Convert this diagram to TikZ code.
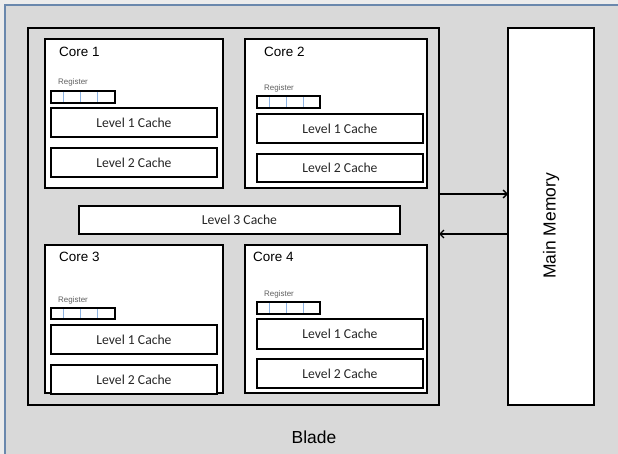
\documentclass[tikz,border=0pt]{standalone}
\usepackage{fontspec}
\setmainfont{Liberation Sans}
\newfontfamily\calfont{Carlito}
\usetikzlibrary{arrows.meta}
\definecolor{bgfill}{HTML}{D9D9D9}
\definecolor{outerfill}{HTML}{ECECEC}
\definecolor{framecol}{HTML}{6A88AD}
\definecolor{divcol}{HTML}{8DB3E2}
\definecolor{reggrey}{HTML}{606060}
\definecolor{cachetext}{HTML}{262626}
\tikzset{
  box/.style={draw=black, anchor=north west, inner sep=0pt, outer sep=0pt},
  bladebox/.style={box, line width=1.3bp},
  corebox/.style={box, fill=white, line width=1.4bp},
  cachebox/.style={box, fill=white, line width=1.8bp, text=cachetext, font=\calfont\fontsize{13.7}{15}\selectfont},
  regbox/.style={box, fill=white, line width=1.4bp},
  regdiv/.style={draw=divcol, line width=0.8bp},
  corelbl/.style={anchor=west, inner sep=0pt, font=\fontsize{13.5}{15}\selectfont},
  reglbl/.style={anchor=west, inner sep=0pt, text=reggrey, font=\fontsize{8}{9}\selectfont},
  biglbl/.style={inner sep=0pt, font=\fontsize{17.5}{19}\selectfont},
  conn/.style={line width=1.3bp, -{Straight Barb[length=4bp,width=8bp]}}
}
\begin{document}
\begin{tikzpicture}[x=1bp,y=-1bp]
\useasboundingbox (0,0) rectangle (618,454);
\clip (0,0) rectangle (618,454);
\fill[outerfill] (0,0) rectangle (618,454);
\fill[bgfill] (5,5) rectangle (620,456);
\draw[framecol, line width=1.2bp] (5,460) -- (5,5) -- (624,5);

% Blade
\node[bladebox, minimum width=411bp, minimum height=377bp] (blade) at (28,28) {};
\node[biglbl] (bladelbl) at (314,437) {Blade};

% Main memory
\node[corebox, line width=1.6bp, minimum width=86bp, minimum height=377bp] (mm) at (508,28) {};
\node[biglbl, rotate=90] (mmlbl) at (551,226) {Main Memory};

% Cores
\node[corebox, minimum width=178bp, minimum height=149bp] (c1) at (45,39) {};
\node[corebox, minimum width=182bp, minimum height=149bp] (c2) at (245,39) {};
\node[corebox, minimum width=178bp, minimum height=148bp] (c3) at (45,245) {};
\node[corebox, minimum width=182bp, minimum height=148bp] (c4) at (245,245) {};

\node[corelbl] (c1l) at (59,52) {Core 1};
\node[corelbl] (c2l) at (264,52) {Core 2};
\node[corelbl] (c3l) at (59,257) {Core 3};
\node[corelbl] (c4l) at (253,257) {Core 4};

% Registers
\node[reglbl] (r1l) at (58,82) {Register};
\node[reglbl] (r2l) at (264,88) {Register};
\node[reglbl] (r3l) at (58,300) {Register};
\node[reglbl] (r4l) at (264,294) {Register};

\node[regbox, minimum width=64bp, minimum height=12bp] (r1) at (51,91) {};
\node[regbox, minimum width=63bp, minimum height=12bp] (r2) at (257,96) {};
\node[regbox, minimum width=64bp, minimum height=11bp] (r3) at (51,308) {};
\node[regbox, minimum width=63bp, minimum height=12bp] (r4) at (257,302) {};

\foreach \r in {r1,r2,r3,r4}{
  \foreach \dx in {12,29,46}{
    \draw[regdiv] ([xshift=\dx bp, yshift=-0.8bp]\r.north west) -- ([xshift=\dx bp, yshift=0.8bp]\r.south west);
  }
}

% Caches
\node[cachebox, minimum width=166bp, minimum height=29bp] (l1a) at (51,108) {Level 1 Cache};
\node[cachebox, minimum width=166bp, minimum height=29bp] (l2a) at (51,148) {Level 2 Cache};
\node[cachebox, minimum width=166bp, minimum height=29bp] (l1b) at (257,114) {Level 1 Cache};
\node[cachebox, minimum width=166bp, minimum height=28bp] (l2b) at (257,154) {Level 2 Cache};
\node[cachebox, minimum width=166bp, minimum height=29bp] (l1c) at (51,325) {Level 1 Cache};
\node[cachebox, minimum width=166bp, minimum height=29bp] (l2c) at (51,365) {Level 2 Cache};
\node[cachebox, minimum width=166bp, minimum height=30bp] (l1d) at (257,319) {Level 1 Cache};
\node[cachebox, minimum width=166bp, minimum height=29bp] (l2d) at (257,359) {Level 2 Cache};
\node[cachebox, minimum width=321bp, minimum height=28bp] (l3) at (79,206) {Level 3 Cache};

% Connectors
\coordinate (ya) at (0,194);
\coordinate (yb) at (0,234);
\draw[conn] (blade.east |- ya) -- (mm.west |- ya);
\draw[conn] (mm.west |- yb) -- (blade.east |- yb);
\end{tikzpicture}
\end{document}
